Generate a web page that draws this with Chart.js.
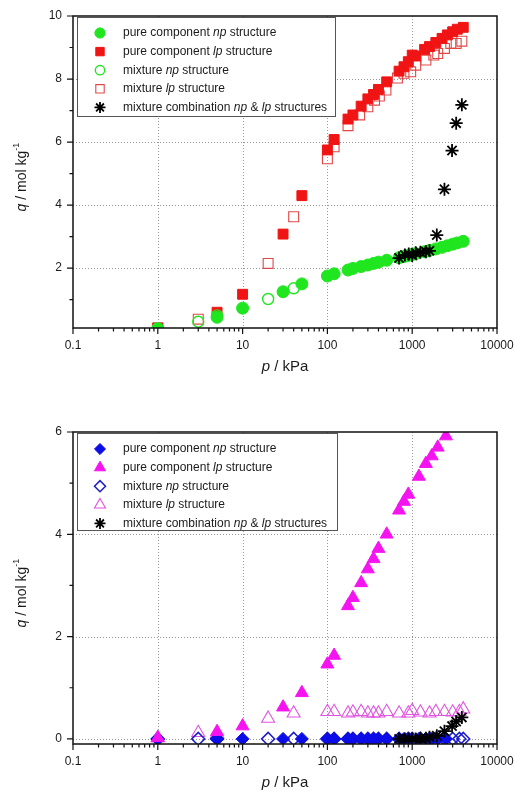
<!DOCTYPE html>
<html>
<head>
<meta charset="utf-8">
<script src="https://cdn.jsdelivr.net/npm/chart.js@4.4.0/dist/chart.umd.min.js"></script>
<style>
  body { margin: 0; background: #fff; }
  #wrap { position: relative; width: 515px; height: 791px; }
  canvas { position: absolute; left: 0; }
</style>
</head>
<body>
<div id="wrap">
  <canvas id="topChart" width="515" height="395" style="top:0"></canvas>
  <canvas id="botChart" width="515" height="396" style="top:395px"></canvas>
</div>
<script>
// x axis (shared)
const xTicks = [0.1, 1, 10, 100, 1000, 10000];
const xTickLabels = ['0.1', '1', '10', '100', '1000', '10000'];

// --- upper panel ---
const pPureA = [1, 5, 10, 30, 50, 100, 120, 175, 200, 250, 300, 350, 400, 500, 700, 800, 900, 1000, 1100, 1400, 1600, 1900, 2250, 2600, 3000, 3400, 4000];
const qPureNpA = [0.08, 0.44, 0.73, 1.25, 1.5, 1.75, 1.82, 1.94, 1.99, 2.05, 2.1, 2.15, 2.19, 2.25, 2.33, 2.37, 2.4, 2.43, 2.46, 2.52, 2.56, 2.61, 2.66, 2.71, 2.76, 2.8, 2.85];
const qPureLpA = [0.1, 0.6, 1.17, 3.08, 4.3, 5.75, 6.08, 6.73, 6.86, 7.14, 7.37, 7.51, 7.67, 7.91, 8.25, 8.39, 8.55, 8.76, 8.73, 8.94, 9.03, 9.16, 9.29, 9.4, 9.5, 9.58, 9.64];
const pMixNpA = [1, 3, 5, 20, 40];
const qMixNpA = [0.08, 0.3, 0.5, 1.02, 1.36];
const pMixLpA = [1, 3, 20, 40, 100, 120, 175, 240, 300, 360, 410, 490, 670, 800, 960, 1100, 1450, 1800, 2000, 2400, 2850, 3300, 3850];
const qMixLpA = [0.1, 0.38, 2.15, 3.63, 5.47, 5.85, 6.52, 6.86, 7.12, 7.33, 7.46, 7.65, 8.03, 8.18, 8.23, 8.44, 8.6, 8.76, 8.81, 8.97, 9.13, 9.13, 9.2];
const pCombo = [700, 820, 910, 1000, 1100, 1250, 1450, 1600, 1950, 2400, 2950, 3300, 3850];
const qComboA = [2.32, 2.42, 2.45, 2.4, 2.49, 2.5, 2.52, 2.55, 3.05, 4.5, 5.73, 6.6, 7.18];
const yTicksA = [2, 4, 6, 8, 10];
const yMinorA = [1, 3, 5, 7, 9];

// --- lower panel ---
const pPureB = [1, 5, 10, 30, 50, 100, 120, 175, 200, 250, 300, 350, 400, 500, 700, 800, 900, 1200, 1450, 1700, 2000, 2500];
const qPureNpB = [0, 0, 0, 0, 0, 0, 0, 0, 0, 0, 0, 0, 0, 0, 0, 0, 0, 0, 0, 0, 0, 0];
const qPureLpB = [0.02, 0.14, 0.25, 0.62, 0.9, 1.46, 1.63, 2.6, 2.76, 3.05, 3.32, 3.52, 3.72, 4.0, 4.47, 4.64, 4.78, 5.13, 5.38, 5.53, 5.7, 5.92];
const pMixB = [1, 3, 5, 20, 40, 100, 120, 175, 200, 250, 300, 350, 400, 500, 700, 900, 1000, 1250, 1600, 1900, 2400, 3000, 3600, 4000];
const qMixNpB = [0, 0, 0, 0, 0, 0, 0, 0, 0, 0, 0, 0, 0, 0, 0, 0, 0, 0, 0, 0, 0, 0, 0, 0];
const qMixLpB = [0.02, 0.12, 0.1, 0.4, 0.5, 0.53, 0.53, 0.5, 0.52, 0.53, 0.5, 0.5, 0.5, 0.53, 0.5, 0.5, 0.55, 0.52, 0.5, 0.53, 0.53, 0.52, 0.53, 0.58];
const qComboB = [0, 0, 0, 0, 0, 0.01, 0.01, 0.03, 0.06, 0.15, 0.25, 0.34, 0.42];
const yTicksB = [0, 2, 4, 6];
const yMinorB = [1, 3, 5];

const legendTexts = [
  [{ t: 'pure component ' }, { t: 'np', it: true }, { t: ' structure' }],
  [{ t: 'pure component ' }, { t: 'lp', it: true }, { t: ' structure' }],
  [{ t: 'mixture ' }, { t: 'np', it: true }, { t: ' structure' }],
  [{ t: 'mixture ' }, { t: 'lp', it: true }, { t: ' structure' }],
  [{ t: 'mixture combination ' }, { t: 'np', it: true }, { t: ' & ' }, { t: 'lp', it: true }, { t: ' structures' }]
];

const FAM = "'Liberation Sans', Arial, sans-serif";
const TXT = '#1a1a1a';

function pts(xs, ys) {
  return xs.map((x, i) => ({ x: x, y: ys[i] }));
}

function drawRich(ctx, parts, x, y, size, align) {
  const fontOf = p => (p.it ? 'italic ' : '') + (p.sup ? size * 0.65 : size) + 'px ' + FAM;
  let total = 0;
  parts.forEach(p => { ctx.font = fontOf(p); p.w = ctx.measureText(p.t).width; total += p.w; });
  let cx = align === 'center' ? x - total / 2 : x;
  ctx.textBaseline = 'middle';
  ctx.textAlign = 'left';
  ctx.fillStyle = TXT;
  parts.forEach(p => {
    ctx.font = fontOf(p);
    ctx.fillText(p.t, cx, p.sup ? y - size * 0.42 : y);
    cx += p.w;
  });
}

const framePlugin = {
  id: 'frame',
  beforeDatasetsDraw(chart, args, o) {
    const { ctx, chartArea: a, scales: { x, y } } = chart;
    ctx.save();
    ctx.strokeStyle = '#999';
    ctx.lineWidth = 1;
    ctx.setLineDash([1, 2]);
    ctx.beginPath();
    [1, 10, 100, 1000].forEach(v => {
      const px = Math.round(x.getPixelForValue(v)) + 0.5;
      ctx.moveTo(px, a.top); ctx.lineTo(px, a.bottom);
    });
    o.yGrid.forEach(v => {
      const py = Math.round(y.getPixelForValue(v)) + 0.5;
      ctx.moveTo(a.left, py); ctx.lineTo(a.right, py);
    });
    ctx.stroke();
    ctx.restore();
  },
  afterDatasetsDraw(chart, args, o) {
    const { ctx, chartArea: a, scales: { x, y } } = chart;
    ctx.save();
    ctx.setLineDash([]);
    ctx.strokeStyle = '#111';
    ctx.lineWidth = 1.5;
    ctx.strokeRect(a.left, a.top, a.right - a.left, a.bottom - a.top);

    // tick marks
    ctx.lineWidth = 1.2;
    ctx.beginPath();
    xTicks.forEach(v => {
      const px = x.getPixelForValue(v);
      ctx.moveTo(px, a.bottom); ctx.lineTo(px, a.bottom + 6);
    });
    [0.1, 1, 10, 100, 1000].forEach(d => {
      for (let k = 2; k <= 9; k++) {
        const px = x.getPixelForValue(d * k);
        ctx.moveTo(px, a.bottom); ctx.lineTo(px, a.bottom + 3.5);
      }
    });
    o.yMajor.forEach(v => {
      const py = y.getPixelForValue(v);
      ctx.moveTo(a.left, py); ctx.lineTo(a.left - 6, py);
    });
    o.yMinor.forEach(v => {
      const py = y.getPixelForValue(v);
      ctx.moveTo(a.left, py); ctx.lineTo(a.left - 3.5, py);
    });
    ctx.stroke();

    // legend
    const bx = a.left + 4, by = a.top + 1, bw = o.legendW, bh = o.legendH;
    ctx.fillStyle = '#fff';
    ctx.fillRect(bx, by, bw, bh);
    ctx.strokeStyle = '#555';
    ctx.lineWidth = 1;
    ctx.strokeRect(bx + 0.5, by + 0.5, bw, bh);
    legendTexts.forEach((parts, i) => {
      const ds = chart.data.datasets[i];
      const cy = by + 16 + i * 18.6;
      ctx.fillStyle = ds.backgroundColor;
      ctx.strokeStyle = ds.borderColor;
      ctx.lineWidth = ds.borderWidth;
      Chart.helpers.drawPoint(ctx, {
        pointStyle: ds.pointStyle, radius: ds.pointRadius * 0.85,
        rotation: 0, borderWidth: ds.borderWidth
      }, bx + 23, cy);
      drawRich(ctx, parts, bx + 46, cy, 12, 'left');
    });

    // axis titles
    drawRich(ctx, [{ t: 'p', it: true }, { t: ' / kPa' }], (a.left + a.right) / 2, o.xTitleY, 15, 'center');
    ctx.translate(22, (a.top + a.bottom) / 2 + 5);
    ctx.rotate(-Math.PI / 2);
    drawRich(ctx, [{ t: 'q', it: true }, { t: ' / mol kg' }, { t: '-1', sup: true }], 0, 0, 14, 'center');
    ctx.restore();
  }
};

function makeChart(id, cfg) {
  return new Chart(document.getElementById(id), {
    type: 'scatter',
    data: { datasets: cfg.datasets },
    options: {
      responsive: false,
      animation: false,
      devicePixelRatio: 1,
      layout: { padding: { left: 0, right: 18, top: cfg.padTop, bottom: 0 } },
      plugins: {
        legend: { display: false },
        tooltip: { enabled: false },
        frame: cfg.frame
      },
      scales: {
        x: {
          type: 'logarithmic',
          min: 0.1,
          max: 10000,
          afterBuildTicks: s => { s.ticks = xTicks.map(v => ({ value: v })); },
          afterFit: s => { s.height = cfg.xHeight; s.paddingLeft = 0; s.paddingRight = 0; },
          grid: { display: false, drawTicks: false },
          border: { display: false },
          ticks: {
            autoSkip: false, maxRotation: 0, padding: 10, color: TXT,
            font: { family: FAM, size: 12 },
            callback: v => xTickLabels[xTicks.indexOf(v)]
          }
        },
        y: {
          min: cfg.yMin,
          max: cfg.yMax,
          afterBuildTicks: s => { s.ticks = cfg.yTicks.map(v => ({ value: v })); },
          afterFit: s => { s.width = 73; s.paddingTop = 0; s.paddingBottom = 0; },
          grid: { display: false, drawTicks: false },
          border: { display: false },
          ticks: {
            padding: 11, color: TXT,
            font: { family: FAM, size: 12 },
            callback: v => String(v)
          }
        }
      }
    },
    plugins: [framePlugin]
  });
}

function ds(data, style, r, fill, stroke, bw, order) {
  return {
    data: data, pointStyle: style, pointRadius: r, pointHoverRadius: r,
    backgroundColor: fill, borderColor: stroke, borderWidth: bw, order: order
  };
}

const GREEN = '#1fe61f', RED = '#f01414', RED_OPEN = '#e04848';
const BLUE = '#0c0ce6', BLUE_OPEN = '#1e1ec8', MAG = '#f514f0', MAG_OPEN = '#e055e0';
const NONE = 'rgba(0,0,0,0)';

makeChart('topChart', {
  padTop: 16, xHeight: 67, yMin: 0.1, yMax: 10, yTicks: yTicksA,
  frame: { yGrid: [2, 4, 6, 8], yMajor: yTicksA, yMinor: yMinorA, legendW: 258, legendH: 99, xTitleY: 367 },
  datasets: [
    ds(pts(pPureA, qPureNpA), 'circle', 6, GREEN, GREEN, 1, 1),
    ds(pts(pPureA, qPureLpA), 'rect', 7, RED, RED, 1, 3),
    ds(pts(pMixNpA, qMixNpA), 'circle', 5.5, NONE, GREEN, 1.4, 2),
    ds(pts(pMixLpA, qMixLpA), 'rect', 7, NONE, RED_OPEN, 1.1, 4),
    ds(pts(pCombo, qComboA), 'star', 6.5, '#000', '#000', 1.8, 0)
  ]
});

makeChart('botChart', {
  padTop: 37, xHeight: 47, yMin: -0.1, yMax: 6, yTicks: yTicksB,
  frame: { yGrid: [0, 2, 4], yMajor: yTicksB, yMinor: yMinorB, legendW: 260, legendH: 97, xTitleY: 388 },
  datasets: [
    ds(pts(pPureB, qPureNpB), 'rectRot', 6.5, BLUE, BLUE, 1, 2),
    ds(pts(pPureB, qPureLpB), 'triangle', 7.5, MAG, MAG, 1, 1),
    ds(pts(pMixB, qMixNpB), 'rectRot', 6.5, NONE, BLUE_OPEN, 1.5, 3),
    ds(pts(pMixB, qMixLpB), 'triangle', 7.5, NONE, MAG_OPEN, 1.1, 4),
    ds(pts(pCombo, qComboB), 'star', 6.5, '#000', '#000', 1.8, 0)
  ]
});
</script>
</body>
</html>
